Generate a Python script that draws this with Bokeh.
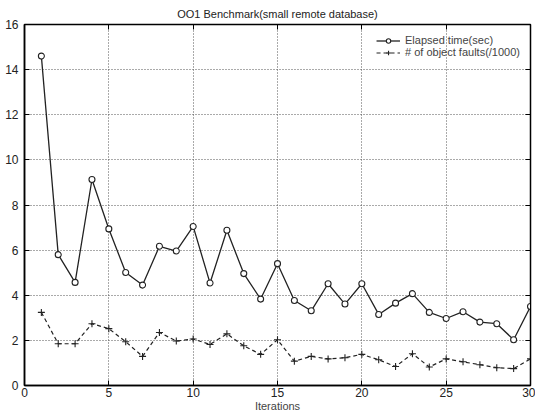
from bokeh.plotting import figure
from bokeh.models import LinearAxis, Legend, LegendItem, FixedTicker, Title
from bokeh.embed import file_html
from bokeh.resources import INLINE

iterations = list(range(1, 31))
elapsed = [14.6, 5.8, 4.57, 9.13, 6.94, 5.01, 4.45, 6.17, 5.96, 7.05,
           4.54, 6.88, 4.96, 3.83, 5.40, 3.77, 3.31, 4.51, 3.61, 4.51,
           3.15, 3.65, 4.07, 3.24, 2.97, 3.27, 2.81, 2.74, 2.03, 3.50]
faults = [3.24, 1.85, 1.85, 2.74, 2.52, 1.94, 1.29, 2.35, 1.97, 2.06,
          1.82, 2.29, 1.76, 1.38, 2.03, 1.08, 1.29, 1.18, 1.23, 1.38,
          1.14, 0.84, 1.41, 0.82, 1.18, 1.05, 0.92, 0.79, 0.75, 1.18]
x_ticks = [0, 5, 10, 15, 20, 25, 30]
y_ticks = [0, 2, 4, 6, 8, 10, 12, 14, 16]
title_text = "OO1 Benchmark(small remote database)"
label_elapsed = "Elapsed time(sec)"
label_faults = "# of object faults(/1000)"
x_label = "Iterations"

FONT = "Liberation Sans"

p = figure(frame_width=506, frame_height=361, x_range=(0, 30), y_range=(0, 16),
           output_backend="svg", toolbar_location=None,
           min_border_left=24, min_border_right=5, min_border_top=17,
           min_border_bottom=20, title=None)

bottom = p.below[0]
left = p.left[0]

# mirrored ticks on top and right (added first so they sit against the frame)
top = LinearAxis(ticker=FixedTicker(ticks=x_ticks),
                 major_label_overrides={tk: "" for tk in x_ticks},
                 major_tick_in=5, major_tick_out=0, minor_tick_in=0, minor_tick_out=0,
                 axis_line_color="black", major_label_standoff=0)
right = LinearAxis(ticker=FixedTicker(ticks=y_ticks),
                   major_label_overrides={tk: "" for tk in y_ticks},
                   major_tick_in=5, major_tick_out=0, minor_tick_in=0, minor_tick_out=0,
                   axis_line_color="black", major_label_standoff=0)
p.add_layout(top, "above")
p.add_layout(right, "right")

t = Title(text=title_text, align="center", text_font=FONT,
          text_font_size="11px", text_font_style="normal",
          text_color="#222222", standoff=10, offset=0)
p.add_layout(t, "above")

p.background_fill_color = "white"
p.border_fill_color = "white"
p.outline_line_color = "black"
p.outline_line_width = 1.5

for ax in [bottom, left]:
    ax.major_tick_in = 5
    ax.major_tick_out = 0
    ax.minor_tick_in = 0
    ax.minor_tick_out = 0
    ax.axis_line_color = "black"
    ax.axis_line_width = 1.5
    ax.major_label_text_font = FONT
    ax.major_label_text_font_size = "12px"
    ax.major_label_text_color = "#222222"

bottom.ticker = FixedTicker(ticks=x_ticks)
left.ticker = FixedTicker(ticks=y_ticks)
bottom.major_label_standoff = 2
left.major_label_standoff = 6
bottom.axis_label = x_label
bottom.axis_label_text_font = FONT
bottom.axis_label_text_font_size = "11px"
bottom.axis_label_text_font_style = "normal"
bottom.axis_label_standoff = 0

p.xgrid[0].ticker = FixedTicker(ticks=x_ticks)
p.ygrid[0].ticker = FixedTicker(ticks=y_ticks)
for g in [p.xgrid[0], p.ygrid[0]]:
    g.grid_line_color = "#555555"
    g.grid_line_dash = "1 2"
    g.grid_line_width = 1

l1 = p.line(iterations, elapsed, line_color="#222222", line_width=1.3)
m1 = p.scatter(iterations, elapsed, marker="circle", size=6, fill_color="white",
               line_color="#222222", line_width=1.1)
l2 = p.line(iterations, faults, line_color="#222222", line_width=1.2, line_dash="4 3")
m2 = p.scatter(iterations, faults, marker="cross", size=7, line_color="#222222",
               line_width=1.1)

legend = Legend(items=[LegendItem(label=label_elapsed, renderers=[l1, m1]),
                       LegendItem(label=label_faults, renderers=[l2, m2])],
                location="top_right", border_line_color=None,
                background_fill_alpha=0, label_text_font=FONT,
                label_text_font_size="11px", label_height=11, glyph_height=11,
                glyph_width=24, spacing=0, padding=2, margin=10,
                label_standoff=5)
p.add_layout(legend, "center")

open("out.html", "w").write(file_html(p, INLINE))
